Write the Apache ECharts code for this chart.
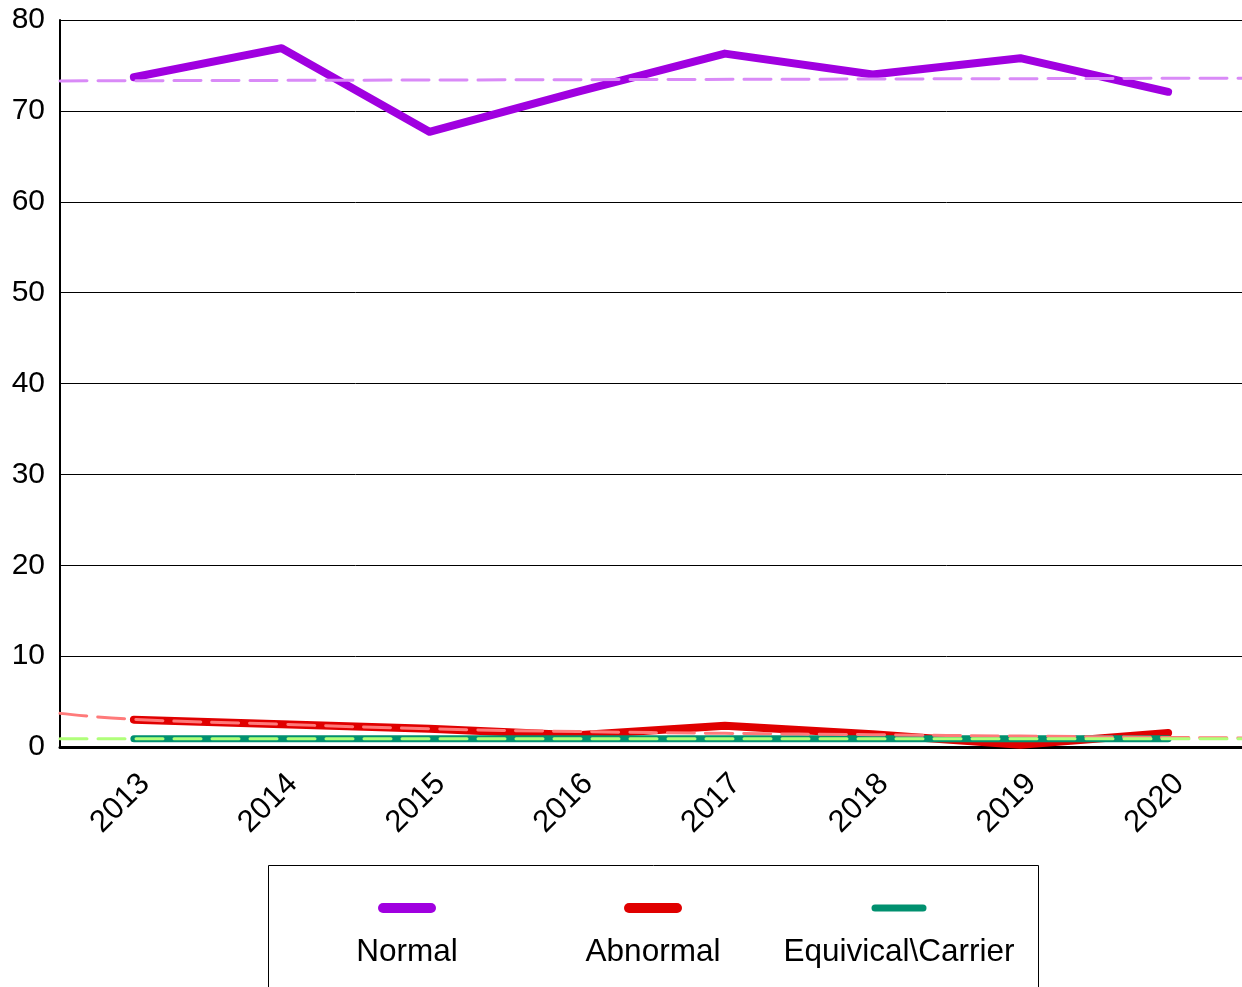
<!DOCTYPE html>
<html>
<head>
<meta charset="utf-8">
<script src="https://cdn.jsdelivr.net/npm/echarts@6/dist/echarts.min.js"></script>
<style>
html,body{margin:0;padding:0;background:#fff;}
#chart{width:1242px;height:987px;}
</style>
</head>
<body>
<div id="chart"></div>
<script>
const years = ['2013','2014','2015','2016','2017','2018','2019','2020'];
const normal = [73.7, 76.9, 67.7, 72.1, 76.3, 74.0, 75.8, 72.1];
const abnormal = [3.0, 2.5, 2.0, 1.3, 2.35, 1.4, 0.25, 1.55];
const equivocal = [0.9, 0.9, 0.9, 0.9, 0.9, 0.9, 0.9, 0.9];
// trend lines, positions in category units
const normalTrend = [[-0.5, 73.3], [7.5, 73.6]];
const abnormalTrend = [[-0.5, 3.7], [0, 3.05], [1, 2.5], [2, 2.0], [3, 1.7], [4, 1.5], [5, 1.35], [6, 1.2], [7, 1.05], [7.5, 1.0]];
const equivocalTrend = [[-0.5, 0.92], [7.5, 0.92]];
const yTicks = [0, 10, 20, 30, 40, 50, 60, 70, 80];
const legendNames = ['Normal', 'Abnormal', 'Equivical\\Carrier'];
const colors = ['#a000e0', '#e00000', '#00906f'];
const trendColors = ['#d98af7', '#ff7a7a', '#b0ff7a'];

const chart = echarts.init(document.getElementById('chart'));
const font = 'Liberation Sans, Arial, sans-serif';

function mainLine(name, data, color, width, z) {
  return {
    name, type: 'line', data, xAxisIndex: 0, yAxisIndex: 0,
    symbol: 'none', z,
    lineStyle: {color, width, cap: 'round', join: 'round'}
  };
}
function trendLine(data, color, smooth, z) {
  return {
    type: 'line', data, xAxisIndex: 1, yAxisIndex: 0, symbol: 'none', smooth, z,
    lineStyle: {color, width: 3, type: [27, 11], cap: 'round'}
  };
}

const legendX = [407, 653, 899];
const legendGraphics = [{
  type: 'rect', shape: {x: 268.5, y: 865.5, width: 770, height: 200},
  style: {fill: '#fff', stroke: '#000', lineWidth: 1}, z: 1
}];
legendNames.forEach((n, i) => {
  legendGraphics.push({
    type: 'line', shape: {x1: legendX[i] - 24, y1: 908, x2: legendX[i] + 24, y2: 908},
    style: {stroke: colors[i], lineWidth: i === 2 ? 7 : 10, lineCap: 'round'}, z: 2
  });
  legendGraphics.push({
    type: 'text', x: legendX[i], y: 952,
    style: {text: n, fill: '#000', font: '31.5px ' + font, textAlign: 'center', textVerticalAlign: 'middle'}, z: 2
  });
});

chart.setOption({
  animation: false,
  backgroundColor: '#fff',
  grid: {left: 60, right: -5, top: 20, bottom: 240, containLabel: false},
  xAxis: [{
    type: 'category', data: years, boundaryGap: true,
    axisLine: {show: true, lineStyle: {color: '#000', width: 3}},
    axisTick: {show: false},
    axisLabel: {rotate: 45, color: '#000', fontSize: 31, fontFamily: font, margin: 21,
      align: 'right', verticalAlign: 'top'},
    splitLine: {show: false}
  }, {
    type: 'value', min: -0.5, max: 7.5, show: false
  }],
  yAxis: {
    type: 'value', min: 0, max: 80, interval: 10,
    axisLine: {show: true, onZero: false, lineStyle: {color: '#000', width: 2}},
    axisTick: {show: false},
    axisLabel: {color: '#000', fontSize: 30, fontFamily: font, margin: 15, padding: [6, 0, 0, 0],
      formatter: v => yTicks.includes(v) ? String(v) : ''},
    splitLine: {show: true, lineStyle: {color: '#000', width: 1}}
  },
  series: [
    mainLine(legendNames[0], normal, colors[0], 8, 3),
    mainLine(legendNames[1], abnormal, colors[1], 8, 3),
    mainLine(legendNames[2], equivocal, colors[2], 7, 4),
    trendLine(normalTrend, trendColors[0], false, 5),
    trendLine(abnormalTrend, trendColors[1], true, 5),
    trendLine(equivocalTrend, trendColors[2], false, 6)
  ],
  graphic: legendGraphics
});
</script>
</body>
</html>
